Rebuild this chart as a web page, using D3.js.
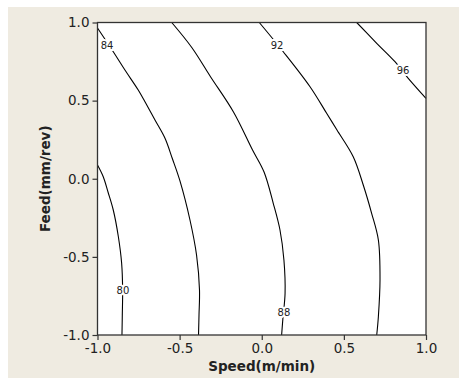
<!DOCTYPE html>
<html>
<head>
<meta charset="utf-8">
<script src="https://cdn.jsdelivr.net/npm/d3@7"></script>
<style>
  body { margin: 0; background: #fff; }
  svg text { font-family: "DejaVu Sans", Verdana, sans-serif; }
</style>
</head>
<body>
<script>
// contour lines: [speed, feed]
var levels = [80, 84, 88, 92, 96];
var c80 = [[-1.0, 0.088], [-0.965, 0.013], [-0.936, -0.085], [-0.904, -0.2], [-0.873, -0.371],
           [-0.853, -0.541], [-0.847, -0.712], [-0.849, -0.872], [-0.851, -1.0]];
var c84 = [[-1.0, 0.965], [-0.904, 0.813], [-0.833, 0.696], [-0.752, 0.568], [-0.711, 0.493],
           [-0.650, 0.376], [-0.589, 0.259], [-0.545, 0.131], [-0.498, -0.014], [-0.437, -0.264],
           [-0.397, -0.488], [-0.379, -0.712], [-0.382, -0.872], [-0.385, -1.0]];
var c88 = [[-0.548, 1.0], [-0.426, 0.84], [-0.312, 0.653], [-0.173, 0.429], [-0.056, 0.184],
           [0.014, 0.043], [0.070, -0.157], [0.111, -0.328], [0.135, -0.52], [0.142, -0.733],
           [0.129, -0.891], [0.121, -1.0]];
var c92 = [[-0.015, 1.0], [0.131, 0.813], [0.294, 0.589], [0.395, 0.419], [0.458, 0.312],
           [0.557, 0.141], [0.618, -0.04], [0.669, -0.221], [0.710, -0.392], [0.720, -0.648],
           [0.710, -0.883], [0.700, -1.0]];
var c96 = [[0.578, 1.0], [0.700, 0.867], [0.811, 0.749], [0.892, 0.643], [1.0, 0.515]];
var contours = [c80, c84, c88, c92, c96];
// where each level label sits
var labelPos = [[-0.845, -0.712], [-0.942, 0.85], [0.135, -0.859], [0.093, 0.856], [0.860, 0.69]];
var ticks = [-1.0, -0.5, 0.0, 0.5, 1.0];

var W = 470, H = 378;
var margin = { top: 22.5, right: 44, bottom: 43, left: 97.5 };

var svg = d3.select("body").append("svg")
    .attr("width", W)
    .attr("height", H);

// beige panel
svg.append("rect")
    .attr("x", 8).attr("y", 7)
    .attr("width", 451).attr("height", H - 7)
    .attr("fill", "#efebe1");

var x = d3.scaleLinear().domain([-1, 1]).range([margin.left, W - margin.right]);
var y = d3.scaleLinear().domain([-1, 1]).range([H - margin.bottom, margin.top]);

svg.append("rect")
    .attr("x", x(-1)).attr("y", y(1))
    .attr("width", x(1) - x(-1)).attr("height", y(-1) - y(1))
    .attr("fill", "#fff");

var g = svg.append("g");

var line = d3.line()
    .x(function (d) { return x(d[0]); })
    .y(function (d) { return y(d[1]); })
    .curve(d3.curveCatmullRom);

g.selectAll(".contour")
    .data(contours)
    .enter().append("path")
    .attr("class", "contour")
    .attr("d", line)
    .attr("fill", "none")
    .attr("stroke", "#000")
    .attr("stroke-width", 1.1);

g.selectAll(".lvl")
    .data(levels)
    .enter().append("text")
    .attr("class", "lvl")
    .attr("x", function (d, i) { return x(labelPos[i][0]); })
    .attr("y", function (d, i) { return y(labelPos[i][1]); })
    .attr("dy", "0.35em")
    .attr("text-anchor", "middle")
    .style("font-size", "10px")
    .style("fill", "#222")
    .style("stroke", "#fff")
    .style("stroke-width", 4)
    .style("paint-order", "stroke")
    .text(function (d) { return d; });

// frame
svg.append("rect")
    .attr("x", x(-1)).attr("y", y(1))
    .attr("width", x(1) - x(-1)).attr("height", y(-1) - y(1))
    .attr("fill", "none")
    .attr("stroke", "#333")
    .attr("stroke-width", 1.3);

// plain hyphen for negatives, like the original
var fmt = function (d) { return d.toFixed(1).replace("\u2212", "-"); };

var xAxis = svg.append("g")
    .attr("transform", "translate(0," + y(-1) + ")")
    .call(d3.axisBottom(x).tickValues(ticks).tickFormat(fmt).tickSize(5).tickPadding(3));

var yAxis = svg.append("g")
    .attr("transform", "translate(" + x(-1) + ",0)")
    .call(d3.axisLeft(y).tickValues(ticks).tickFormat(fmt).tickSize(5).tickPadding(3));

[xAxis, yAxis].forEach(function (a) {
    a.select(".domain").remove();
    a.selectAll("line").attr("stroke", "#333").attr("stroke-width", 1.2);
    a.selectAll("text")
        .style("font-size", "13.5px")
        .style("font-family", "'DejaVu Sans', Verdana, sans-serif")
        .attr("fill", "#222");
});

svg.append("text")
    .attr("x", (x(-1) + x(1)) / 2)
    .attr("y", 371)
    .attr("text-anchor", "middle")
    .style("font-size", "13.5px")
    .style("font-weight", "bold")
    .style("fill", "#222")
    .text("Speed(m/min)");

svg.append("text")
    .attr("transform", "translate(50," + (y(-1) + y(1)) / 2 + ") rotate(-90)")
    .attr("text-anchor", "middle")
    .style("font-size", "13.5px")
    .style("font-weight", "bold")
    .style("fill", "#222")
    .text("Feed(mm/rev)");
</script>
</body>
</html>
